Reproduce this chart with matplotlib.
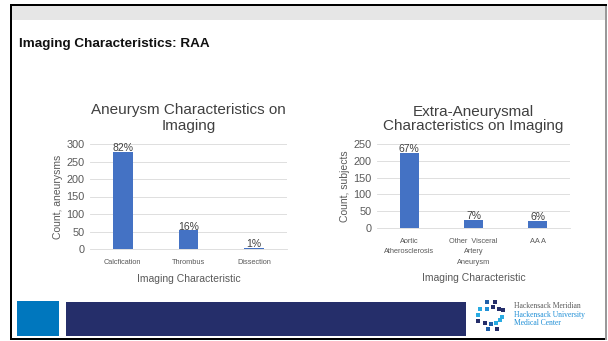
import matplotlib.pyplot as plt
from matplotlib.patches import Rectangle

plt.rcParams['font.family'] = ['Liberation Sans', 'DejaVu Sans']

W, H = 608, 341

# left chart
aneu_cats = ['Calcfication', 'Thrombus', 'Dissection']
aneu_counts = [276, 53, 4]
aneu_pct = ['82%', '16%', '1%']

# right chart
extra_cats = ['Aortic\nAtherosclerosis', 'Other  Visceral\nArtery\nAneurysm', 'AA A']
extra_counts = [223, 23, 20]
extra_pct = ['67%', '7%', '6%']

bar_color = '#4472C4'
txt = '#595959'


def px(x, y, w, h):
    # pixel box (top-left origin) -> figure fraction
    return [x / W, 1 - (y + h) / H, w / W, h / H]


def rect(x, y, w, h, color, z=0):
    b = px(x, y, w, h)
    fig.add_artist(Rectangle((b[0], b[1]), b[2], b[3], transform=fig.transFigure,
                             facecolor=color, edgecolor='none', zorder=z))


def bar_chart(ax, cats, counts, pct, ymax, ylabel, title, title_y, title_ls):
    x = range(len(cats))
    bars = ax.bar(x, counts, width=0.3, color=bar_color, zorder=3)
    for b, p in zip(bars, pct):
        ax.text(b.get_x() + b.get_width() / 2, b.get_height() - ymax * 0.01, p, ha='center',
                va='bottom', fontsize=7.5, color='#404040')
    ax.set_ylim(0, ymax)
    ax.set_xlim(-0.5, len(cats) - 0.5)
    ax.set_yticks(range(0, ymax + 1, 50))
    ax.set_xticks(list(x))
    ax.set_xticklabels(cats, fontsize=5.3, color=txt, linespacing=1.75)
    ax.tick_params(axis='y', labelsize=7.8, colors=txt, length=0, pad=4)
    ax.tick_params(axis='x', length=0, pad=7)
    ax.grid(axis='y', color='#D9D9D9', linewidth=0.6, zorder=0)
    for s in ['top', 'right', 'left']:
        ax.spines[s].set_visible(False)
    ax.spines['bottom'].set_color('#D9D9D9')
    ax.spines['bottom'].set_linewidth(0.6)
    ax.set_ylabel(ylabel, fontsize=7.5, color=txt, labelpad=2)
    ax.set_xlabel('Imaging Characteristic', fontsize=7.5, color=txt)
    ax.set_title(title, fontsize=11, color='#404040', y=title_y, linespacing=title_ls)


fig = plt.figure(figsize=(W / 100, H / 100), dpi=100)

# slide frame
rect(0, 0, W, H, 'white', -5)
rect(12, 6, 594, 14, '#E6E6E6')
rect(10, 4, 597, 2, 'black')
rect(10, 4, 2, 336, 'black')
rect(10, 338, 597, 2, 'black')
rect(605, 6, 1.5, 334, '#999999')

fig.text(19 / W, 1 - 44 / H, 'Imaging Characteristics: RAA', fontsize=9.7,
         fontweight='bold', va='center', color='#111111')

ax1 = fig.add_axes(px(90, 144, 197, 105))
bar_chart(ax1, aneu_cats, aneu_counts, aneu_pct, 300, 'Count, aneurysms',
          'Aneurysm Characteristics on\nImaging', 1.057, 1.15)
ax1.xaxis.labelpad = 6

ax2 = fig.add_axes(px(377, 144, 193, 84))
bar_chart(ax2, extra_cats, extra_counts, extra_pct, 250, 'Count, subjects',
          'Extra-Aneurysmal\nCharacteristics on Imaging', 1.07, 1.0)
ax2.xaxis.labelpad = 5

# footer bands
rect(17, 301, 42, 35, '#0077BE')
rect(66, 302, 400, 34, '#252E6A')

# logo
dots = [(487, 302, '#1F5FA8'), (495, 302, '#252E6A'), (480, 309, '#29ABE2'), (487, 309, '#1F8FD6'),
        (493, 307, '#252E6A'), (499, 309, '#252E6A'), (503, 310, '#252E6A'), (478, 315, '#29ABE2'),
        (502, 317, '#29ABE2'), (478, 321, '#252E6A'), (485, 323, '#252E6A'), (491, 324, '#1F5FA8'),
        (496, 323, '#29ABE2'), (500, 320, '#29ABE2'), (488, 329, '#1F5FA8'), (497, 329, '#252E6A')]
for x, y, c in dots:
    rect(x - 2, y - 2, 4, 4, c, 2)
fig.text(514 / W, 1 - 306 / H, 'Hackensack Meridian', fontsize=5.5, family='Liberation Serif',
         color='#595959', va='center')
fig.text(514 / W, 1 - 315 / H, 'Hackensack University', fontsize=5.5, family='Liberation Serif',
         color='#1F8FD6', va='center')
fig.text(514 / W, 1 - 323 / H, 'Medical Center', fontsize=5.5, family='Liberation Serif',
         color='#1F8FD6', va='center')

fig.savefig('out.png', dpi=100)
